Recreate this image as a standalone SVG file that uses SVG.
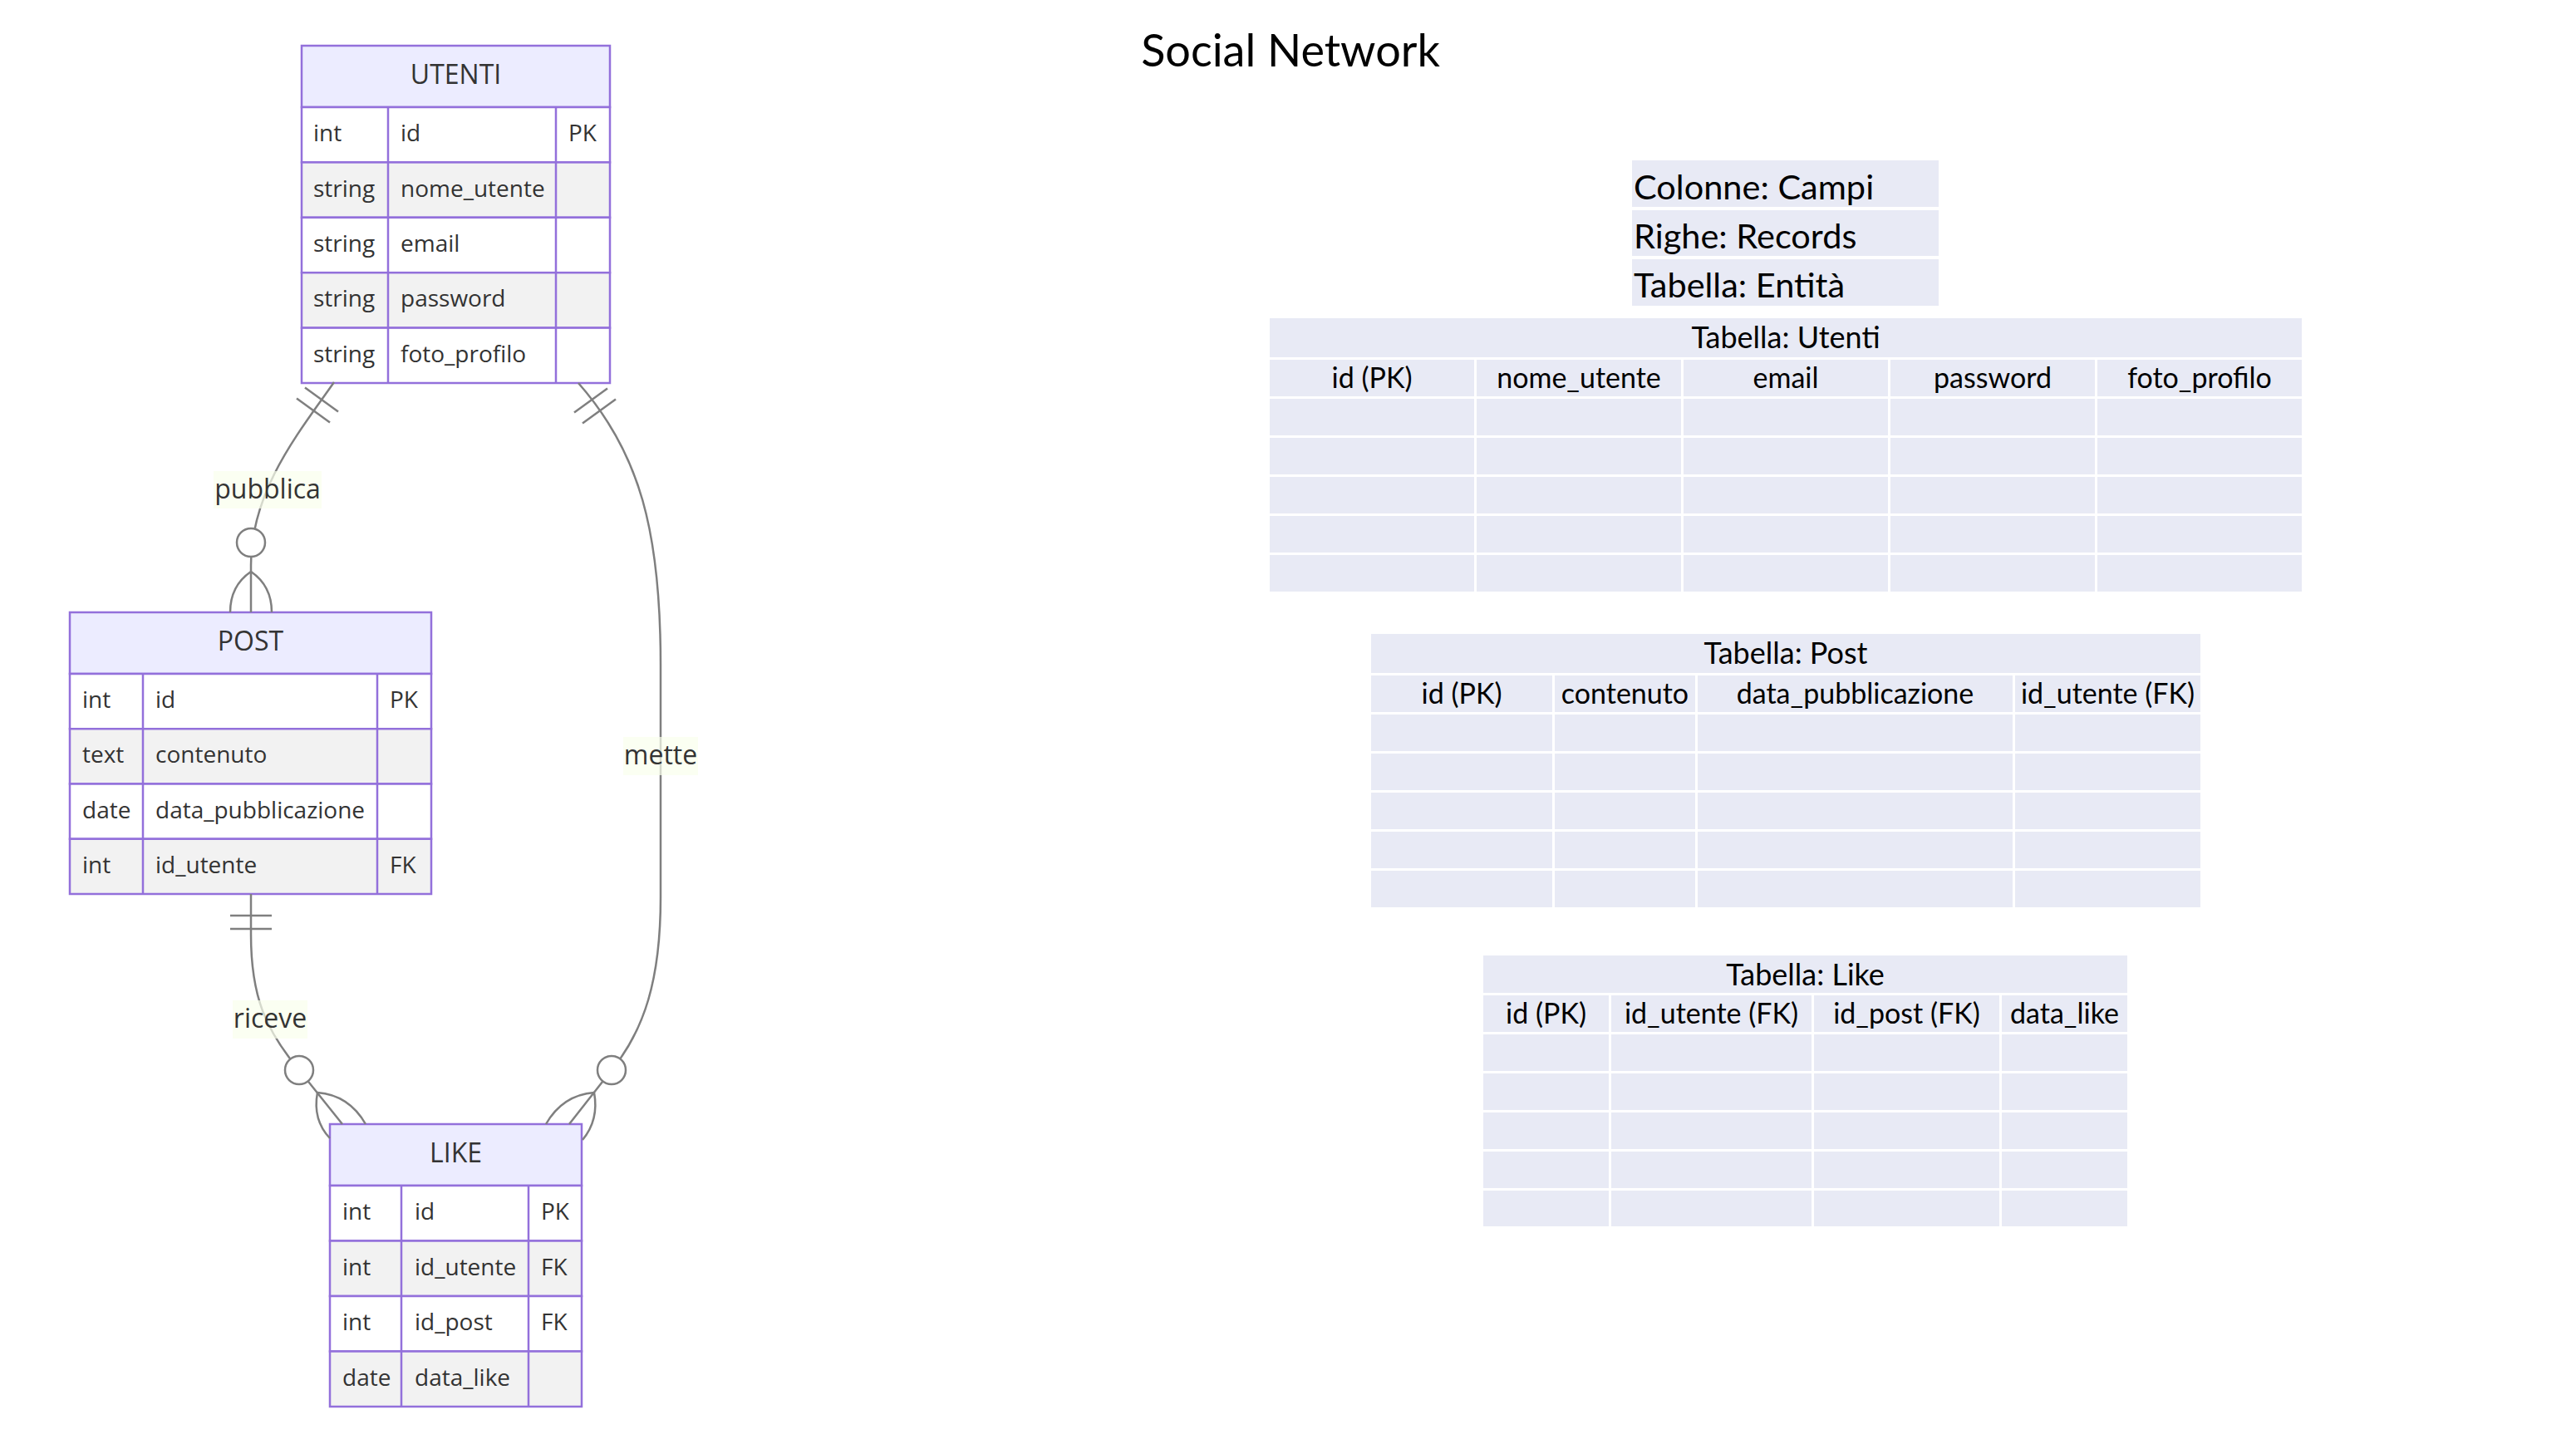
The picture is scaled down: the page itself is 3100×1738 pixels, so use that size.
<svg xmlns="http://www.w3.org/2000/svg" width="3100" height="1738" viewBox="0 0 3100 1738">
<style>
.hdr{fill:#ececff;stroke:#9370db;stroke-width:2.5}
.ro{fill:#ffffff;stroke:#9370db;stroke-width:2.5}
.re{fill:#f2f2f2;stroke:#9370db;stroke-width:2.5}
.div{stroke:#9370db;stroke-width:2.5}
.et{font-family:"Open Sans","Noto Sans",sans-serif;font-size:32px;fill:#333;text-anchor:middle}
.at{font-family:"Open Sans","Noto Sans",sans-serif;font-size:28px;fill:#333}
.rel{fill:none;stroke:#7f7f7f;stroke-width:2.5}
.mk{fill:none;stroke:#7f7f7f;stroke-width:2.5}
.circ{fill:#ffffff;stroke:#7f7f7f;stroke-width:2.5}
.lblbg{fill:#f9ffec;opacity:0.7}
.lbl{font-family:"Open Sans","Noto Sans",sans-serif;font-size:32px;fill:#333;text-anchor:middle}
.cell{fill:#e8eaf5}
.gap{stroke:#ffffff;stroke-width:3}
.tt{font-family:Lato,"Open Sans",sans-serif;font-size:34px;fill:#000;text-anchor:middle}
.th{font-family:Lato,"Open Sans",sans-serif;font-size:36px;fill:#000;text-anchor:middle}
.lg{font-family:Lato,"Open Sans",sans-serif;font-size:41.5px;fill:#000}
.title{font-family:Lato,"Open Sans",sans-serif;font-size:54px;fill:#000;text-anchor:middle}
</style>

<text class="title" x="1553" y="80">Social Network</text>

<g id="UTENTI">
<rect class="hdr" x="363" y="55" width="371" height="74"/>
<rect class="ro" x="363" y="129" width="371" height="66.4"/>
<rect class="re" x="363" y="195.4" width="371" height="66.4"/>
<rect class="ro" x="363" y="261.8" width="371" height="66.4"/>
<rect class="re" x="363" y="328.2" width="371" height="66.4"/>
<rect class="ro" x="363" y="394.6" width="371" height="66.4"/>
<line class="div" x1="467" y1="129" x2="467" y2="461"/>
<line class="div" x1="669" y1="129" x2="669" y2="461"/>
<text class="et" x="548.5" y="101">UTENTI</text>
<text class="at" x="377" y="170">int</text><text class="at" x="482" y="170">id</text><text class="at" x="684" y="170">PK</text>
<text class="at" x="377" y="236.6">string</text><text class="at" x="482" y="236.6">nome_utente</text>
<text class="at" x="377" y="303">string</text><text class="at" x="482" y="303">email</text>
<text class="at" x="377" y="369.4">string</text><text class="at" x="482" y="369.4">password</text>
<text class="at" x="377" y="435.8">string</text><text class="at" x="482" y="435.8">foto_profilo</text>
</g>

<g id="POST">
<rect class="hdr" x="84" y="737" width="435" height="74"/>
<rect class="ro" x="84" y="811" width="435" height="66.25"/>
<rect class="re" x="84" y="877.25" width="435" height="66.25"/>
<rect class="ro" x="84" y="943.5" width="435" height="66.25"/>
<rect class="re" x="84" y="1009.75" width="435" height="66.25"/>
<line class="div" x1="172" y1="811" x2="172" y2="1076"/>
<line class="div" x1="454" y1="811" x2="454" y2="1076"/>
<text class="et" x="301.5" y="783">POST</text>
<text class="at" x="99" y="852">int</text><text class="at" x="187" y="852">id</text><text class="at" x="469" y="852">PK</text>
<text class="at" x="99" y="918.4">text</text><text class="at" x="187" y="918.4">contenuto</text>
<text class="at" x="99" y="984.6">date</text><text class="at" x="187" y="984.6">data_pubblicazione</text>
<text class="at" x="99" y="1050.9">int</text><text class="at" x="187" y="1050.9">id_utente</text><text class="at" x="469" y="1050.9">FK</text>
</g>

<g id="LIKE">
<rect class="hdr" x="397" y="1353" width="303" height="74"/>
<rect class="ro" x="397" y="1427" width="303" height="66.5"/>
<rect class="re" x="397" y="1493.5" width="303" height="66.5"/>
<rect class="ro" x="397" y="1560" width="303" height="66.5"/>
<rect class="re" x="397" y="1626.5" width="303" height="66.5"/>
<line class="div" x1="483" y1="1427" x2="483" y2="1693"/>
<line class="div" x1="636" y1="1427" x2="636" y2="1693"/>
<text class="et" x="548.5" y="1399">LIKE</text>
<text class="at" x="412" y="1468.3">int</text><text class="at" x="499" y="1468.3">id</text><text class="at" x="651" y="1468.3">PK</text>
<text class="at" x="412" y="1534.8">int</text><text class="at" x="499" y="1534.8">id_utente</text><text class="at" x="651" y="1534.8">FK</text>
<text class="at" x="412" y="1601.3">int</text><text class="at" x="499" y="1601.3">id_post</text><text class="at" x="651" y="1601.3">FK</text>
<text class="at" x="412" y="1667.8">date</text><text class="at" x="499" y="1667.8">data_like</text>
</g>

<g id="connectors">
<!-- UTENTI - POST : pubblica -->
<path class="rel" d="M402,460 C360,520 302,590 302,680 L302,737"/>
<line class="mk" x1="367" y1="466.5" x2="407" y2="495.5"/>
<line class="mk" x1="357" y1="479.5" x2="397" y2="508.5"/>
<circle class="circ" cx="302" cy="653" r="17"/>
<path class="mk" d="M277,737 Q277,705 302,688 Q327,705 327,737"/>
<!-- POST - LIKE : riceve -->
<path class="rel" d="M302,1076 L302,1125 C302,1200 320,1240 360,1288 L412,1353"/>
<line class="mk" x1="277" y1="1102" x2="327" y2="1102"/>
<line class="mk" x1="277" y1="1118" x2="327" y2="1118"/>
<circle class="circ" cx="360" cy="1288" r="17"/>
<path class="mk" d="M440,1353 Q420,1318 382,1315 Q376,1348 397,1370"/>
<!-- UTENTI - LIKE : mette -->
<path class="rel" d="M696,461 C770,545 795,640 795,800 L795,1080 C795,1180 775,1240 736,1288 L685,1353"/>
<line class="mk" x1="691" y1="496.5" x2="731" y2="467.5"/>
<line class="mk" x1="701" y1="509.5" x2="741" y2="480.5"/>
<circle class="circ" cx="736" cy="1288" r="17"/>
<path class="mk" d="M657,1353 Q677,1318 715,1315 Q721,1348 701,1372"/>
</g>

<g id="labels">
<rect class="lblbg" x="257" y="567" width="130" height="45"/>
<text class="lbl" x="322" y="600">pubblica</text>
<rect class="lblbg" x="280" y="1204" width="90" height="46"/>
<text class="lbl" x="325" y="1237">riceve</text>
<rect class="lblbg" x="750" y="887" width="90" height="46"/>
<text class="lbl" x="795" y="920">mette</text>
</g>

<g id="legend">
<rect class="cell" x="1964" y="193" width="369" height="56"/>
<rect class="cell" x="1964" y="253" width="369" height="55"/>
<rect class="cell" x="1964" y="312" width="369" height="56"/>
<text class="lg" x="1966" y="240">Colonne: Campi</text>
<text class="lg" x="1966" y="299">Righe: Records</text>
<text class="lg" x="1966" y="358">Tabella: Entità</text>
</g>

<g id="tabella_utenti">
<rect class="cell" x="1528" y="383" width="1242" height="329"/>
<line class="gap" x1="1528" y1="431.5" x2="2770" y2="431.5"/>
<line class="gap" x1="1528" y1="478.5" x2="2770" y2="478.5"/>
<line class="gap" x1="1528" y1="525.5" x2="2770" y2="525.5"/>
<line class="gap" x1="1528" y1="572.5" x2="2770" y2="572.5"/>
<line class="gap" x1="1528" y1="619.5" x2="2770" y2="619.5"/>
<line class="gap" x1="1528" y1="666.5" x2="2770" y2="666.5"/>
<line class="gap" x1="1775.5" y1="431" x2="1775.5" y2="712"/>
<line class="gap" x1="2024.5" y1="431" x2="2024.5" y2="712"/>
<line class="gap" x1="2273.5" y1="431" x2="2273.5" y2="712"/>
<line class="gap" x1="2522.5" y1="431" x2="2522.5" y2="712"/>
<text class="th" x="2149" y="419">Tabella: Utenti</text>
<text class="tt" x="1651" y="467">id (PK)</text>
<text class="tt" x="1900" y="467">nome_utente</text>
<text class="tt" x="2149" y="467">email</text>
<text class="tt" x="2398" y="467">password</text>
<text class="tt" x="2647" y="467">foto_profilo</text>
</g>

<g id="tabella_post">
<rect class="cell" x="1650" y="763" width="998" height="329"/>
<line class="gap" x1="1650" y1="811.5" x2="2648" y2="811.5"/>
<line class="gap" x1="1650" y1="858.5" x2="2648" y2="858.5"/>
<line class="gap" x1="1650" y1="905.5" x2="2648" y2="905.5"/>
<line class="gap" x1="1650" y1="952.5" x2="2648" y2="952.5"/>
<line class="gap" x1="1650" y1="999.5" x2="2648" y2="999.5"/>
<line class="gap" x1="1650" y1="1046.5" x2="2648" y2="1046.5"/>
<line class="gap" x1="1869.5" y1="811" x2="1869.5" y2="1092"/>
<line class="gap" x1="2041.5" y1="811" x2="2041.5" y2="1092"/>
<line class="gap" x1="2423.5" y1="811" x2="2423.5" y2="1092"/>
<text class="th" x="2149" y="799">Tabella: Post</text>
<text class="tt" x="1759" y="847">id (PK)</text>
<text class="tt" x="1955.5" y="847">contenuto</text>
<text class="tt" x="2232.5" y="847">data_pubblicazione</text>
<text class="tt" x="2536.5" y="847">id_utente (FK)</text>
</g>

<g id="tabella_like">
<rect class="cell" x="1785" y="1150" width="775" height="326"/>
<line class="gap" x1="1785" y1="1196.5" x2="2560" y2="1196.5"/>
<line class="gap" x1="1785" y1="1243.5" x2="2560" y2="1243.5"/>
<line class="gap" x1="1785" y1="1290.5" x2="2560" y2="1290.5"/>
<line class="gap" x1="1785" y1="1337.5" x2="2560" y2="1337.5"/>
<line class="gap" x1="1785" y1="1384.5" x2="2560" y2="1384.5"/>
<line class="gap" x1="1785" y1="1431.5" x2="2560" y2="1431.5"/>
<line class="gap" x1="1937.5" y1="1196" x2="1937.5" y2="1476"/>
<line class="gap" x1="2181.5" y1="1196" x2="2181.5" y2="1476"/>
<line class="gap" x1="2407.5" y1="1196" x2="2407.5" y2="1476"/>
<text class="th" x="2172.5" y="1186">Tabella: Like</text>
<text class="tt" x="1860.5" y="1232">id (PK)</text>
<text class="tt" x="2059.5" y="1232">id_utente (FK)</text>
<text class="tt" x="2294.5" y="1232">id_post (FK)</text>
<text class="tt" x="2484.5" y="1232">data_like</text>
</g>
</svg>
